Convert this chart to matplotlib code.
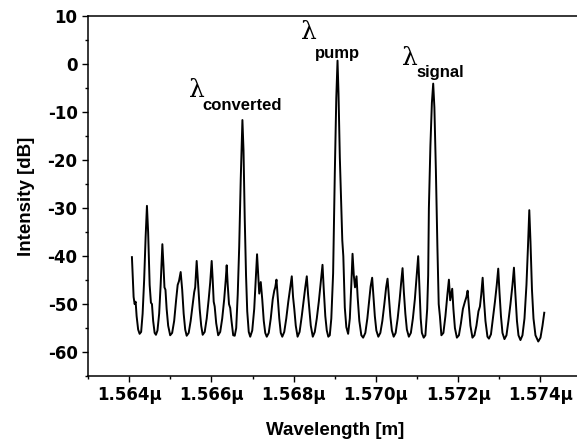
import numpy as np
from matplotlib import pyplot as plt
from matplotlib.ticker import MultipleLocator, FuncFormatter

# spectrum (wavelength in nm, intensity in dB)
wavelength_nm = np.array([
    1564.068, 1564.109, 1564.134, 1564.158, 1564.182, 1564.219, 1564.255, 1564.292,
    1564.328, 1564.365, 1564.401, 1564.433, 1564.462, 1564.499, 1564.530, 1564.555,
    1564.584, 1564.620, 1564.652, 1564.689, 1564.730, 1564.766, 1564.808, 1564.835,
    1564.859, 1564.883, 1564.912, 1564.949, 1564.998, 1565.046, 1565.095, 1565.144,
    1565.180, 1565.212, 1565.253, 1565.290, 1565.326, 1565.363, 1565.399, 1565.448,
    1565.496, 1565.545, 1565.582, 1565.606, 1565.642, 1565.679, 1565.715, 1565.752,
    1565.788, 1565.837, 1565.886, 1565.934, 1565.971, 1566.007, 1566.032, 1566.056,
    1566.080, 1566.117, 1566.165, 1566.214, 1566.263, 1566.311, 1566.348, 1566.372,
    1566.397, 1566.428, 1566.457, 1566.489, 1566.530, 1566.567, 1566.603, 1566.640,
    1566.676, 1566.713, 1566.754, 1566.781, 1566.810, 1566.842, 1566.871, 1566.908,
    1566.944, 1566.993, 1567.041, 1567.078, 1567.110, 1567.139, 1567.163, 1567.200,
    1567.236, 1567.273, 1567.309, 1567.346, 1567.394, 1567.443, 1567.491, 1567.528,
    1567.552, 1567.582, 1567.613, 1567.650, 1567.686, 1567.723, 1567.771, 1567.820,
    1567.869, 1567.917, 1567.954, 1567.985, 1568.015, 1568.051, 1568.095, 1568.144,
    1568.197, 1568.246, 1568.282, 1568.319, 1568.350, 1568.380, 1568.416, 1568.465,
    1568.513, 1568.562, 1568.611, 1568.659, 1568.701, 1568.732, 1568.769, 1568.805,
    1568.842, 1568.878, 1568.915, 1568.959, 1569.000, 1569.036, 1569.066, 1569.090,
    1569.122, 1569.158, 1569.182, 1569.207, 1569.243, 1569.280, 1569.324, 1569.365,
    1569.401, 1569.431, 1569.462, 1569.491, 1569.528, 1569.555, 1569.596, 1569.645,
    1569.689, 1569.742, 1569.791, 1569.839, 1569.871, 1569.908, 1569.937, 1569.973,
    1570.010, 1570.058, 1570.107, 1570.156, 1570.204, 1570.248, 1570.282, 1570.314,
    1570.350, 1570.387, 1570.431, 1570.479, 1570.528, 1570.577, 1570.613, 1570.647,
    1570.679, 1570.715, 1570.752, 1570.800, 1570.849, 1570.898, 1570.946, 1570.990,
    1571.027, 1571.056, 1571.088, 1571.117, 1571.161, 1571.202, 1571.246, 1571.270,
    1571.287, 1571.324, 1571.360, 1571.392, 1571.421, 1571.457, 1571.494, 1571.526,
    1571.555, 1571.591, 1571.640, 1571.689, 1571.737, 1571.774, 1571.805, 1571.854,
    1571.883, 1571.920, 1571.968, 1572.017, 1572.066, 1572.114, 1572.163, 1572.200,
    1572.229, 1572.260, 1572.297, 1572.346, 1572.394, 1572.443, 1572.492, 1572.528,
    1572.560, 1572.594, 1572.625, 1572.662, 1572.711, 1572.747, 1572.796, 1572.844,
    1572.893, 1572.937, 1572.973, 1573.003, 1573.039, 1573.076, 1573.124, 1573.173,
    1573.221, 1573.270, 1573.319, 1573.355, 1573.387, 1573.428, 1573.465, 1573.513,
    1573.562, 1573.611, 1573.659, 1573.696, 1573.728, 1573.757, 1573.793, 1573.830,
    1573.878, 1573.946, 1574.000, 1574.049, 1574.092])

intensity_db = np.array([
    -40.2, -48.5, -50.0, -49.5, -52.5, -55.3, -56.2, -55.8,
    -52.0, -45.0, -36.0, -29.5, -35.0, -46.0, -49.7, -50.0,
    -53.5, -56.0, -56.4, -55.5, -52.0, -46.0, -37.5, -42.0,
    -46.5, -47.0, -51.0, -54.5, -56.5, -56.0, -53.5, -49.0,
    -46.0, -45.2, -43.3, -47.0, -52.0, -55.3, -56.6, -56.0,
    -53.5, -50.0, -47.5, -46.5, -41.0, -46.0, -51.0, -54.5,
    -56.4, -55.8, -53.0, -49.0, -45.5, -41.0, -45.0, -49.5,
    -50.5, -54.0, -56.5, -55.8, -53.0, -49.0, -45.0, -41.9,
    -46.0, -50.0, -50.8, -53.5, -56.5, -56.6, -55.0, -48.0,
    -38.0, -24.0, -11.6, -18.0, -32.0, -44.0, -51.5, -55.8,
    -56.8, -55.5, -51.0, -45.0, -39.6, -44.0, -47.8, -45.4,
    -49.0, -53.5, -56.0, -56.8, -56.0, -53.0, -49.0, -47.2,
    -46.5, -44.9, -48.5, -53.0, -56.0, -56.8, -55.8, -53.0,
    -49.5, -46.5, -44.2, -48.5, -51.0, -54.5, -56.8, -55.8,
    -52.5, -49.0, -46.5, -44.2, -48.0, -51.0, -54.5, -56.8,
    -55.8, -53.0, -49.5, -45.5, -41.8, -47.0, -52.5, -55.5,
    -56.8, -56.5, -53.0, -43.6, -22.7, -7.0, 0.8, -6.0,
    -19.4, -30.0, -36.7, -40.0, -50.7, -54.8, -56.2, -53.0,
    -46.0, -39.5, -44.0, -46.5, -44.2, -48.5, -53.5, -56.5,
    -57.0, -56.0, -53.0, -49.0, -46.3, -44.5, -48.0, -52.5,
    -55.5, -56.8, -56.0, -53.5, -50.0, -46.5, -44.7, -48.5,
    -52.5, -55.5, -56.8, -56.0, -53.0, -49.0, -45.5, -42.5,
    -47.5, -52.0, -55.3, -56.8, -56.0, -53.0, -49.0, -44.0,
    -40.0, -46.0, -53.0, -56.0, -57.0, -56.5, -51.0, -44.0,
    -30.0, -17.0, -8.0, -4.0, -9.0, -22.0, -38.0, -50.0,
    -52.5, -56.5, -56.0, -52.5, -48.0, -44.9, -49.2, -46.8,
    -51.0, -55.0, -57.0, -56.5, -54.0, -51.0, -49.5, -48.5,
    -47.2, -50.5, -54.5, -57.0, -56.5, -54.5, -51.5, -50.5,
    -48.0, -44.5, -49.0, -53.5, -56.8, -57.2, -56.3, -53.0,
    -49.5, -46.0, -42.6, -47.5, -52.5, -56.0, -57.3, -56.5,
    -53.5, -50.0, -46.0, -42.4, -47.5, -53.5, -56.5, -57.5,
    -56.5, -53.0, -46.0, -38.0, -30.4, -37.0, -47.0, -53.0,
    -56.5, -57.8, -57.0, -54.5, -51.8])

# labels of the three lines: (name, lambda position, subscript position)
line_names = ["converted", "pump", "signal"]
lambda_pos = [(1565.45, -5.4), (1568.17, 6.7), (1570.63, 1.2)]
sub_pos = [(1565.79, -8.6), (1568.52, 2.2), (1570.98, -1.6)]

plt.rcParams['font.family'] = ['Liberation Sans', 'DejaVu Sans']
plt.rcParams['axes.unicode_minus'] = False

fig = plt.figure(figsize=(5.77, 4.47), dpi=100)
ax = fig.add_axes([0.1525, 0.1588, 0.8555, 0.8043])

ax.plot(wavelength_nm, intensity_db, color="black", lw=1.4,
        solid_joinstyle="round")

for name, (lx, ly), (sx, sy) in zip(line_names, lambda_pos, sub_pos):
    ax.text(lx, ly, "λ", fontsize=18, family="DejaVu Serif", ha="left", va="center")
    ax.text(sx, sy, name, fontsize=12, fontweight="bold", ha="left", va="center")

ax.set_xlim(1563.0, 1575.0)
ax.set_ylim(-65, 10)
ax.xaxis.set_major_locator(MultipleLocator(2))
ax.xaxis.set_minor_locator(MultipleLocator(1))
ax.yaxis.set_major_locator(MultipleLocator(10))
ax.yaxis.set_minor_locator(MultipleLocator(5))
ax.xaxis.set_major_formatter(FuncFormatter(lambda v, p: f"{v/1000:.3f}µ"))

ax.tick_params(which="major", direction="out", length=4.5, width=1.0, pad=3)
ax.tick_params(which="minor", direction="out", length=2.5, width=1.0)
for lab in ax.get_xticklabels() + ax.get_yticklabels():
    lab.set_fontweight("bold")
    lab.set_family("DejaVu Sans")
    lab.set_fontsize(12)
for sp in ax.spines.values():
    sp.set_linewidth(1.1)

ax.set_xlabel("Wavelength [m]", fontsize=13.5, fontweight="bold", labelpad=13)
ax.set_ylabel("Intensity [dB]", fontsize=13.5, fontweight="bold", labelpad=9)

fig.savefig("out.png", dpi=100)
